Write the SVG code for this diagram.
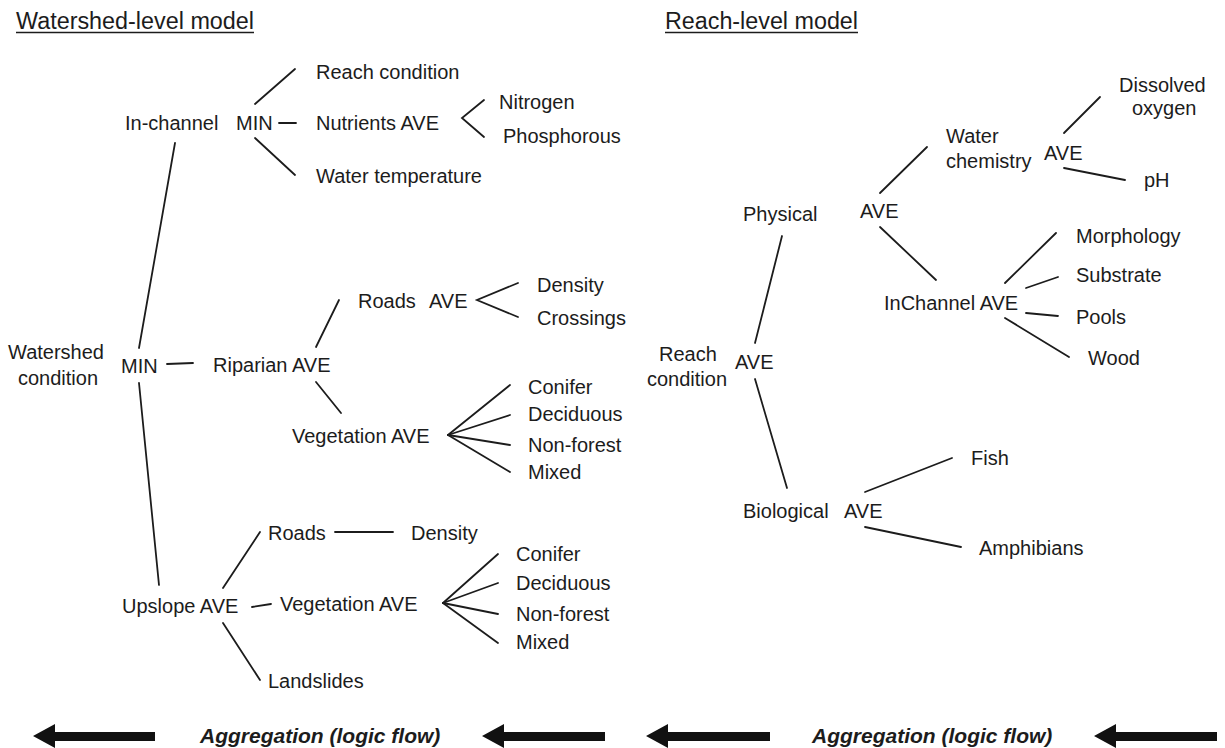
<svg xmlns="http://www.w3.org/2000/svg" width="1225" height="748" viewBox="0 0 1225 748">
<style>
text{font-family:"Liberation Sans",Arial,Helvetica,sans-serif;font-size:20px;fill:#1c1c1c}
.t{font-size:23px}
.b{font-weight:bold;font-style:italic;font-size:21px}
#connectors line,#connectors polyline{stroke:#1c1c1c;stroke-width:1.8;fill:none;stroke-linecap:round}
.ul{stroke:#1c1c1c;stroke-width:1.6}
.arr{fill:#111}
</style>
<rect width="1225" height="748" fill="#fff"/>

<g id="titles">
<text class="t" x="16" y="29" textLength="238" lengthAdjust="spacingAndGlyphs">Watershed-level model</text>
<line class="ul" x1="16" y1="32.5" x2="254" y2="32.5"/>
<text class="t" x="665" y="29" textLength="193" lengthAdjust="spacingAndGlyphs">Reach-level model</text>
<line class="ul" x1="665" y1="32.5" x2="858" y2="32.5"/>
</g>

<g id="connectors">
<!-- left: in-channel -->
<line x1="255" y1="104" x2="295" y2="69"/>
<line x1="279" y1="123" x2="296" y2="123"/>
<line x1="255" y1="138" x2="295" y2="175"/>
<polyline points="484,100 462,118 484,137"/>
<!-- watershed MIN -->
<line x1="175" y1="143" x2="139" y2="348"/>
<line x1="167" y1="364" x2="193" y2="363"/>
<line x1="139" y1="383" x2="159" y2="585"/>
<!-- riparian -->
<line x1="316" y1="347" x2="339" y2="300"/>
<polyline points="518,283 477,300 518,317"/>
<line x1="316" y1="382" x2="341" y2="413"/>
<line x1="448" y1="435" x2="510" y2="385"/>
<line x1="448" y1="435" x2="510" y2="415"/>
<line x1="448" y1="435" x2="510" y2="445"/>
<line x1="448" y1="435" x2="510" y2="472"/>
<!-- upslope -->
<line x1="223" y1="588" x2="260" y2="532"/>
<line x1="335" y1="532" x2="393" y2="532"/>
<line x1="252" y1="607" x2="271" y2="604"/>
<line x1="443" y1="603" x2="498" y2="554"/>
<line x1="443" y1="603" x2="498" y2="583"/>
<line x1="443" y1="603" x2="498" y2="614"/>
<line x1="443" y1="603" x2="498" y2="643"/>
<line x1="223" y1="623" x2="260" y2="680"/>
<!-- right: reach -->
<line x1="782" y1="236" x2="755" y2="343"/>
<line x1="755" y1="379" x2="787" y2="488"/>
<line x1="880" y1="193" x2="927" y2="147"/>
<line x1="880" y1="227" x2="936" y2="280"/>
<line x1="1064" y1="133" x2="1100" y2="97"/>
<line x1="1064" y1="168" x2="1125" y2="180"/>
<line x1="1005" y1="283" x2="1056" y2="233"/>
<line x1="1026" y1="288" x2="1058" y2="277"/>
<line x1="1026" y1="313" x2="1058" y2="316"/>
<line x1="1005" y1="318" x2="1069" y2="357"/>
<line x1="865" y1="492" x2="952" y2="458"/>
<line x1="865" y1="527" x2="961" y2="547"/>
</g>

<g id="n-inchannel"><text x="125" y="130">In-channel</text><text x="236" y="130">MIN</text></g>
<g id="n-reachcond-l"><text x="316" y="79">Reach condition</text></g>
<g id="n-nutrients"><text x="316" y="130">Nutrients AVE</text></g>
<g id="n-nitrogen"><text x="499" y="109">Nitrogen</text></g>
<g id="n-phosph"><text x="503" y="143">Phosphorous</text></g>
<g id="n-watertemp"><text x="316" y="183">Water temperature</text></g>

<g id="n-watershed"><text x="8" y="359">Watershed</text><text x="18" y="385">condition</text><text x="121" y="373">MIN</text></g>
<g id="n-riparian"><text x="213" y="372">Riparian AVE</text></g>
<g id="n-roads1"><text x="358" y="308">Roads</text><text x="429" y="308">AVE</text></g>
<g id="n-density1"><text x="537" y="292">Density</text></g>
<g id="n-crossings"><text x="537" y="325">Crossings</text></g>
<g id="n-veg1"><text x="292" y="443">Vegetation AVE</text></g>
<g id="n-conifer1"><text x="528" y="394">Conifer</text></g>
<g id="n-decid1"><text x="528" y="421">Deciduous</text></g>
<g id="n-nonforest1"><text x="528" y="452">Non-forest</text></g>
<g id="n-mixed1"><text x="528" y="479">Mixed</text></g>

<g id="n-upslope"><text x="122" y="613">Upslope AVE</text></g>
<g id="n-roads2"><text x="268" y="540">Roads</text></g>
<g id="n-density2"><text x="411" y="540">Density</text></g>
<g id="n-veg2"><text x="280" y="611">Vegetation AVE</text></g>
<g id="n-conifer2"><text x="516" y="561">Conifer</text></g>
<g id="n-decid2"><text x="516" y="590">Deciduous</text></g>
<g id="n-nonforest2"><text x="516" y="621">Non-forest</text></g>
<g id="n-mixed2"><text x="516" y="649">Mixed</text></g>
<g id="n-landslides"><text x="268" y="688">Landslides</text></g>

<g id="n-reach"><text x="659" y="361">Reach</text><text x="647" y="386">condition</text><text x="735" y="369">AVE</text></g>
<g id="n-physical"><text x="743" y="221">Physical</text><text x="860" y="218">AVE</text></g>
<g id="n-waterchem"><text x="946" y="143">Water</text><text x="946" y="168">chemistry</text><text x="1044" y="160">AVE</text></g>
<g id="n-dissolved"><text x="1119" y="92">Dissolved</text><text x="1132" y="115">oxygen</text></g>
<g id="n-ph"><text x="1144" y="187">pH</text></g>
<g id="n-inchannel-r"><text x="884" y="310">InChannel AVE</text></g>
<g id="n-morph"><text x="1076" y="243">Morphology</text></g>
<g id="n-substrate"><text x="1076" y="282">Substrate</text></g>
<g id="n-pools"><text x="1076" y="324">Pools</text></g>
<g id="n-wood"><text x="1088" y="365">Wood</text></g>
<g id="n-biological"><text x="743" y="518">Biological</text><text x="844" y="518">AVE</text></g>
<g id="n-fish"><text x="971" y="465">Fish</text></g>
<g id="n-amphib"><text x="979" y="555">Amphibians</text></g>

<g id="flow">
<polygon class="arr" points="33,736 55,724 55,732 155,732 155,741 55,741 55,748"/>
<polygon class="arr" points="482,736 504,724 504,732 605,732 605,741 504,741 504,748"/>
<polygon class="arr" points="646,736 668,724 668,732 770,732 770,741 668,741 668,748"/>
<polygon class="arr" points="1094,736 1116,724 1116,732 1217,732 1217,741 1116,741 1116,748"/>
<text class="b" x="200" y="743">Aggregation (logic flow)</text>
<text class="b" x="812" y="743">Aggregation (logic flow)</text>
</g>
</svg>
